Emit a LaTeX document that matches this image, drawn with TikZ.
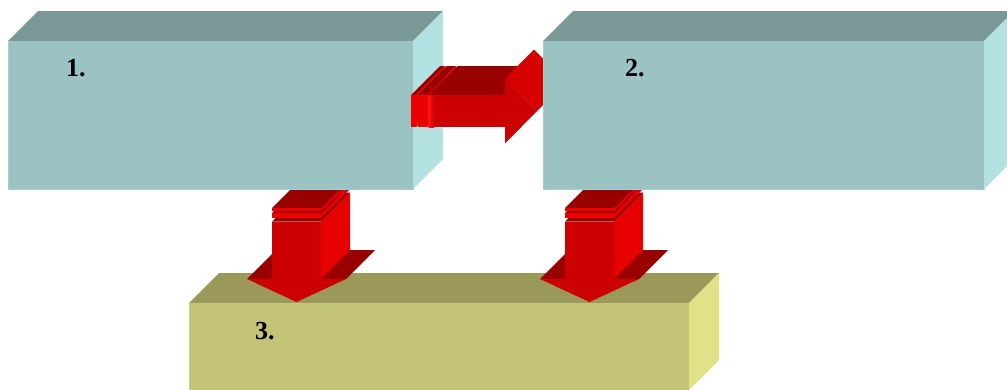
\documentclass[tikz,border=0pt]{standalone}
\usepackage{fontspec}
\setmainfont{Liberation Serif}
\definecolor{cyanfront}{RGB}{156,195,196}
\definecolor{cyanedge}{RGB}{166,206,206}
\definecolor{cyantop}{RGB}{122,152,150}
\definecolor{cyanside}{RGB}{180,225,225}
\definecolor{olivefront}{RGB}{195,196,118}
\definecolor{oliveedge}{RGB}{205,206,128}
\definecolor{olivetop}{RGB}{154,153,90}
\definecolor{oliveside}{RGB}{225,225,135}
\definecolor{redfront}{RGB}{204,0,0}
\definecolor{reddark}{RGB}{153,0,0}
\definecolor{redside}{RGB}{230,0,0}
\definecolor{redlight}{RGB}{214,0,0}
\definecolor{redstripe}{RGB}{236,0,0}
\definecolor{redbright}{RGB}{255,20,20}
\tikzset{
  boxfront/.style={inner sep=0pt, outer sep=0pt, anchor=north west, line width=0.8pt},
  lbl/.style={inner sep=0pt, anchor=base west, font=\bfseries\fontsize{26}{30}\selectfont}
}
% 3D box faces from a front node
\newcommand\boxfaces[5]{% node, width, height, top colour, side colour
  \fill[#4] (#1.north west) -- ++(30,-30) -- ++(#2,0) -- (#1.north east) -- cycle;
  \fill[#5] (#1.north east) -- ++(30,-30) -- ++(0,#3) -- (#1.south east) -- cycle;
}
% one slice of a downward arrow shaft
\newcommand\vslice[4]{% cx, ytop, ybot, front colour
  \fill[redside] ({#1+24.5},#2) -- ++(29,-29) -- ++(0,{#3-#2}) -- ({#1+24.5},#3) -- cycle;
  \fill[reddark] ({#1-24.5},#2) -- ++(29,-29) -- ++(49,0) -- ({#1+24.5},#2) -- cycle;
  \fill[#4] ({#1-24.5},#2) rectangle ({#1+24.5},#3);
}
\newcommand\vertarrow[1]{%
  \fill[reddark] ({#1-49.5},279) -- ++(29,-29) -- ++(99,0) -- ({#1+49.5},279) -- cycle;
  \vslice{#1}{221.5}{279}{redfront}
  \vslice{#1}{213}{218}{redstripe}
  \vslice{#1}{208}{211}{redstripe}
  \fill[redfront] ({#1-49.5},279) -- ({#1+49.5},279) -- (#1,302) -- cycle;
}
% one slice of the rightward arrow shaft
\newcommand\hslice[3]{% xl, xr, front colour
  \fill[reddark] (#1,95) -- ++(29,-29) -- ++({#2-#1},0) -- (#2,95) -- cycle;
  \fill[redside] (#2,95) -- ++(29,-29) -- ++(0,32) -- (#2,127) -- cycle;
  \fill[#3] (#1,95) rectangle (#2,127);
}
\begin{document}
\begin{tikzpicture}[x=1pt,y=-1pt]
\useasboundingbox (0,0) rectangle (1007,389);
\clip (0,0) rectangle (1007,389);
% box 3
\node[boxfront, fill=olivefront, draw=oliveedge, minimum width=500pt, minimum height=87pt] (b3) at (189,303) {};
\boxfaces{b3}{500}{87}{olivetop}{oliveside}
\node[lbl] (t3) at (255,339) {3.};
% downward arrows
\vertarrow{296.5}
\vertarrow{589.5}
% box 1
\node[boxfront, fill=cyanfront, draw=cyanedge, minimum width=405pt, minimum height=148pt] (b1) at (8,41) {};
\boxfaces{b1}{405}{148}{cyantop}{cyanside}
\node[lbl] (t1) at (66,76.5) {1.};
% rightward arrow
\hslice{411}{416}{redstripe}
\hslice{417.5}{427}{redstripe}
\fill[reddark] (428.5,95) -- ++(29,-29) -- ++(76.5,0) -- (505,95) -- cycle;
\fill[redfront] (428.5,95) rectangle (505,127);
\fill[left color=redbright, right color=redfront] (428.5,95) rectangle (434,127);
\fill[redlight] (505,78.5) -- (537,111) -- (566,82) -- (534,49.5) -- cycle;
\fill[redfront] (505,78.5) -- (505,143.5) -- (537,111) -- cycle;
% box 2
\node[boxfront, fill=cyanfront, draw=cyanedge, minimum width=441pt, minimum height=148pt] (b2) at (543,41) {};
\boxfaces{b2}{441}{148}{cyantop}{cyanside}
\node[lbl] (t2) at (625,76) {2.};
\end{tikzpicture}
\end{document}
